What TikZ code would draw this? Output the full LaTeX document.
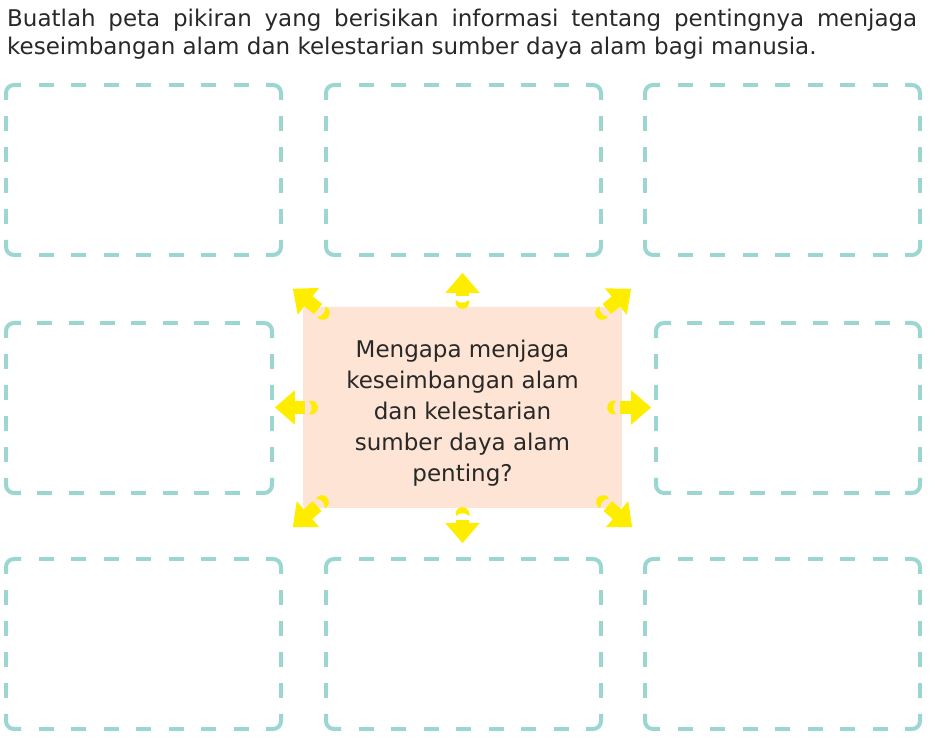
\documentclass[tikz,border=0pt]{standalone}
\usepackage{fontspec}
\setmainfont{DejaVu Sans}
\usetikzlibrary{positioning, arrows.meta, calc}
\usepackage{xcolor}

\definecolor{frameteal}{RGB}{155,214,208}
\definecolor{peach}{RGB}{253,228,212}
\definecolor{sparkyellow}{RGB}{255,237,0}
\definecolor{inkgray}{RGB}{40,40,40}

\tikzset{
  frame/.style={draw=frameteal, line width=4pt},
  idea/.style={inner sep=0pt, outer sep=0pt, minimum width=275pt, minimum height=170pt},
  spark/.style={draw=sparkyellow, line width=13pt, -{Triangle[width=33pt, length=20pt]}, shorten <=6pt},
  pics/nub/.style={code={\fill[sparkyellow] (2pt,6.71pt) arc[start angle=73.4, end angle=286.6, radius=7pt] arc[start angle=228.2, end angle=131.8, radius=9pt] -- cycle;}}
}

% dashed frame round an idea node: #1 node, #2 gap on the long sides
\newcommand{\dashframe}[2]{%
  \draw[frame, rounded corners=8pt] ([yshift=-15pt]#1.north west) -- (#1.north west) -- ([xshift=15pt]#1.north west);
  \draw[frame, rounded corners=8pt] ([xshift=-15pt]#1.north east) -- (#1.north east) -- ([yshift=-15pt]#1.north east);
  \draw[frame, rounded corners=8pt] ([yshift=15pt]#1.south east) -- (#1.south east) -- ([xshift=-15pt]#1.south east);
  \draw[frame, rounded corners=8pt] ([xshift=15pt]#1.south west) -- (#1.south west) -- ([yshift=15pt]#1.south west);
  \draw[frame, dash pattern=on 15pt off #2, dash phase=15pt] ([xshift=15pt]#1.north west) -- ([xshift=-15pt]#1.north east);
  \draw[frame, dash pattern=on 15pt off #2, dash phase=15pt] ([xshift=15pt]#1.south west) -- ([xshift=-15pt]#1.south east);
  \draw[frame, dash pattern=on 15pt off 16pt, dash phase=15pt] ([yshift=-15pt]#1.north west) -- ([yshift=15pt]#1.south west);
  \draw[frame, dash pattern=on 15pt off 16pt, dash phase=15pt] ([yshift=-15pt]#1.north east) -- ([yshift=15pt]#1.south east);
}

\begin{document}
\begin{tikzpicture}[x=1pt, y=1pt, every node/.style={text=inkgray, font=\fontsize{23pt}{28pt}\selectfont}]
        \useasboundingbox (0,0) rectangle (935,750);

        % Task
        \node (taskA) [anchor=base west, inner sep=0pt] at (7,723) {\makebox[910pt][s]{Buatlah peta pikiran yang berisikan informasi tentang pentingnya menjaga}};
        \node (taskB) [below=28pt of taskA.base west, anchor=base west, inner sep=0pt] {keseimbangan alam dan kelestarian sumber daya alam bagi manusia.};

        % Answer boxes
        \node (ideaA) [idea] at (143.5,580) {};
        \node (ideaB) [idea, right=45pt of ideaA] {};
        \node (ideaC) [idea, right=44pt of ideaB] {};
        \node (ideaD) [idea, minimum width=266pt, below=68pt of ideaA.south west, anchor=north west] {};
        \node (ideaE) [idea, minimum width=264pt, below=68pt of ideaC.south east, anchor=north east] {};
        \node (ideaF) [idea, below=66pt of ideaD.south west, anchor=north west] {};
        \node (ideaG) [idea, right=45pt of ideaF] {};
        \node (ideaH) [idea, right=44pt of ideaG] {};

        \dashframe{ideaA}{17.5pt}
        \dashframe{ideaB}{17.5pt}
        \dashframe{ideaC}{17.5pt}
        \dashframe{ideaD}{16.3pt}
        \dashframe{ideaE}{16.3pt}
        \dashframe{ideaF}{17.5pt}
        \dashframe{ideaG}{17.5pt}
        \dashframe{ideaH}{17.5pt}

        % Question
        \node (question) [fill=peach, rounded corners=3pt, inner sep=0pt, minimum width=319pt, minimum height=201pt] at (462.5,342.5) {};
        \node (questiontext) [align=center, font=\fontsize{23pt}{31pt}\selectfont] at ([yshift=-6pt]question.center) {Mengapa menjaga\\keseimbangan alam\\dan kelestarian\\sumber daya alam\\penting?};

        % Arrows
        \coordinate (nubN) at ([yshift=5pt]question.north);
        \coordinate (tipN) at ([yshift=34pt]question.north);
        \pic[rotate=90] at (nubN) {nub};
        \draw[spark] (nubN) -- (tipN);

        \coordinate (nubS) at ([yshift=-6pt]question.south);
        \coordinate (tipS) at ([yshift=-35pt]question.south);
        \pic[rotate=270] at (nubS) {nub};
        \draw[spark] (nubS) -- (tipS);

        \coordinate (nubW) at ([xshift=8pt]question.west);
        \coordinate (tipW) at ([xshift=-28pt]question.west);
        \pic[rotate=180] at (nubW) {nub};
        \draw[spark] (nubW) -- (tipW);

        \coordinate (nubE) at ([xshift=-8pt]question.east);
        \coordinate (tipE) at ([xshift=29pt]question.east);
        \pic at (nubE) {nub};
        \draw[spark] (nubE) -- (tipE);

        \coordinate (nubNW) at ([shift={(20pt,-6pt)}]question.north west);
        \coordinate (tipNW) at ([shift={(-10pt,18pt)}]question.north west);
        \pic[rotate=141] at (nubNW) {nub};
        \draw[spark] (nubNW) -- (tipNW);

        \coordinate (nubNE) at ([shift={(-20pt,-6pt)}]question.north east);
        \coordinate (tipNE) at ([shift={(9pt,18pt)}]question.north east);
        \pic[rotate=39] at (nubNE) {nub};
        \draw[spark] (nubNE) -- (tipNE);

        \coordinate (nubSW) at ([shift={(19pt,6pt)}]question.south west);
        \coordinate (tipSW) at ([shift={(-10pt,-19pt)}]question.south west);
        \pic[rotate=221] at (nubSW) {nub};
        \draw[spark] (nubSW) -- (tipSW);

        \coordinate (nubSE) at ([shift={(-19pt,6pt)}]question.south east);
        \coordinate (tipSE) at ([shift={(10pt,-19pt)}]question.south east);
        \pic[rotate=319] at (nubSE) {nub};
        \draw[spark] (nubSE) -- (tipSE);
    \end{tikzpicture}
\end{document}
